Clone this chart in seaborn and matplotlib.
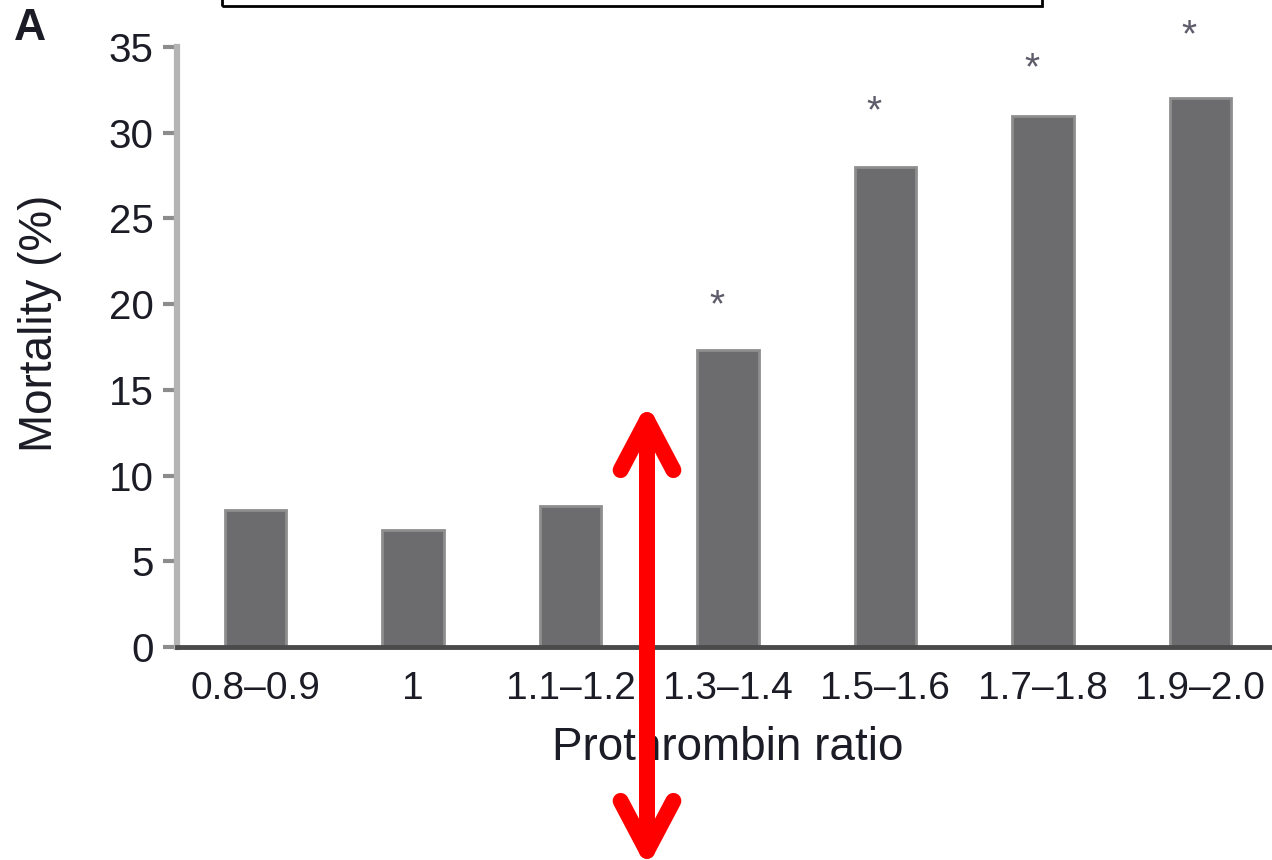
import matplotlib
matplotlib.use("Agg")
import matplotlib.pyplot as plt
from matplotlib.patches import Rectangle, FancyArrowPatch
import seaborn as sns
import pandas as pd

# Mortality by prothrombin ratio band
categories = ["0.8\u20130.9", "1", "1.1\u20131.2", "1.3\u20131.4",
              "1.5\u20131.6", "1.7\u20131.8", "1.9\u20132.0"]
mortality = [8.0, 6.8, 8.2, 17.3, 28.0, 31.0, 32.0]

# Significance markers: which bands, and the height of each star
star_bands = ["1.3\u20131.4", "1.5\u20131.6", "1.7\u20131.8", "1.9\u20132.0"]
star_heights = [19.9, 31.2, 33.7, 35.6]

y_ticks = [0, 5, 10, 15, 20, 25, 30, 35]

sns.set_theme(style="white")
plt.rcParams["font.family"] = ["Liberation Sans", "DejaVu Sans"]

W, H = 1272, 860
fig = plt.figure(figsize=(W / 100, H / 100), dpi=100)
fig.patch.set_facecolor("white")

ax_left, ax_right = 177, 1279
ax_top, ax_bottom = 47, 647
ax = fig.add_axes([ax_left / W, 1 - ax_bottom / H,
                   (ax_right - ax_left) / W, (ax_bottom - ax_top) / H])

df = pd.DataFrame({"ratio": categories, "mortality": mortality})
sns.barplot(data=df, x="ratio", y="mortality", color="#6c6c6e",
            saturation=1, width=0.39, edgecolor="#8e8e8e", linewidth=2,
            ax=ax)

text_color = "#1c1c26"

ax.set_xlim(-0.5, 6.5)
ax.set_ylim(0, 35)
ax.set_yticks(y_ticks)
ax.set_yticklabels([str(t) for t in y_ticks])

for side in ("top", "right"):
    ax.spines[side].set_visible(False)
ax.spines["left"].set_color("#b4b4b4")
ax.spines["left"].set_linewidth(4.5)
ax.spines["bottom"].set_color("#4a4a4a")
ax.spines["bottom"].set_linewidth(3.5)
ax.spines["bottom"].set_zorder(5)

ax.tick_params(axis="y", direction="out", length=10, width=3,
               color="#8c8c8c", pad=7, labelsize=29, labelcolor=text_color,
               left=True)
ax.tick_params(axis="x", length=0, pad=17, labelsize=28,
               labelcolor=text_color)

ax.set_xlabel("Prothrombin ratio", fontsize=33, color=text_color, labelpad=14)
ax.set_ylabel("Mortality (%)", fontsize=33, color=text_color)
ax.yaxis.set_label_coords(-0.104, 0.54)

# Stars above the bars that differ significantly
for band, h in zip(star_bands, star_heights):
    xi = categories.index(band)
    ax.text(xi - 0.07, h, "*", ha="center", va="center", fontsize=28,
            color="#5e5b6a", clip_on=False)

# Panel letter
fig.text(14 / W, 1 - 8 / H, "A", fontsize=32, fontweight="bold",
         color=text_color, ha="left", va="top")

# Frame running off the top edge
fig.patches.append(Rectangle((222 / W, 1 - 6 / H), (1042 - 222) / W, 0.1,
                             transform=fig.transFigure, fill=False,
                             edgecolor="black", linewidth=2.0))

# Red double-headed arrow
arrow = FancyArrowPatch((647, H - 403), (647, H - 868),
                        transform=None,
                        arrowstyle="<->,head_length=36,head_width=19",
                        mutation_scale=1, color="#ff0000", linewidth=11.5,
                        capstyle="round", joinstyle="round",
                        shrinkA=0, shrinkB=0, zorder=10)
fig.patches.append(arrow)

fig.savefig("out.png", dpi=100, facecolor="white")
